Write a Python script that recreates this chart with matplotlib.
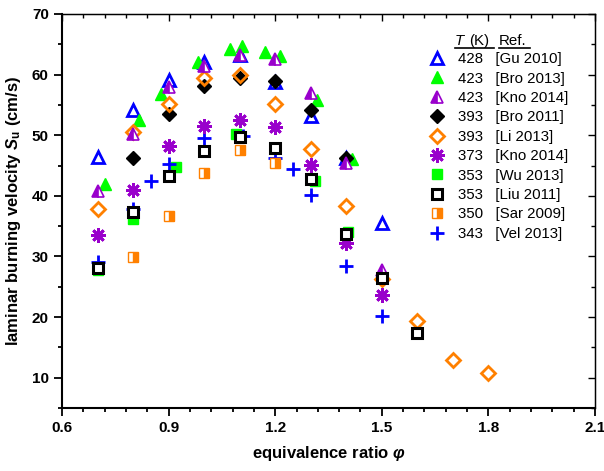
import matplotlib
matplotlib.use('Agg')
import matplotlib.pyplot as plt
from matplotlib.ticker import MultipleLocator, AutoMinorLocator

plt.rcParams['font.family'] = ['Liberation Sans', 'DejaVu Sans']
plt.rcParams['mathtext.fontset'] = 'custom'
plt.rcParams['mathtext.rm'] = 'Liberation Sans:bold'
plt.rcParams['mathtext.it'] = 'Liberation Sans:italic:bold'
plt.rcParams['mathtext.bf'] = 'Liberation Sans:bold'

# data (equivalence ratio, burning velocity cm/s)
gu2010_phi = [0.7, 0.8, 0.9, 1.0, 1.1, 1.2, 1.3, 1.4, 1.5]
gu2010_su = [46.4, 54.1, 59.1, 62.0, 63.3, 58.8, 53.2, 46.3, 35.5]

bro2013_phi = [0.72, 0.817, 0.88, 0.984, 1.073, 1.106, 1.171, 1.214, 1.319, 1.415]
bro2013_su = [42.0, 52.5, 56.8, 62.0, 64.2, 64.7, 63.8, 63.1, 55.8, 46.1]

kno423_phi = [0.7, 0.8, 0.9, 1.0, 1.1, 1.2, 1.3, 1.4, 1.5]
kno423_su = [40.8, 50.2, 58.0, 61.5, 63.2, 62.6, 56.9, 45.5, 27.7]

bro2011_phi = [0.8, 0.9, 1.0, 1.1, 1.2, 1.3, 1.4]
bro2011_su = [46.2, 53.5, 58.1, 59.5, 59.0, 54.1, 46.2]

li2013_phi = [0.7, 0.8, 0.9, 1.0, 1.1, 1.2, 1.3, 1.4, 1.5, 1.6, 1.7, 1.8]
li2013_su = [37.9, 50.5, 55.2, 59.5, 59.9, 55.1, 47.8, 38.4, 26.2, 19.3, 12.9, 10.8]

kno373_phi = [0.7, 0.8, 0.9, 1.0, 1.1, 1.2, 1.3, 1.4, 1.5]
kno373_su = [33.5, 41.0, 48.3, 51.5, 52.5, 51.4, 45.1, 32.2, 23.6]

wu2013_phi = [0.7, 0.8, 0.92, 1.09, 1.312, 1.405]
wu2013_su = [27.8, 36.2, 44.8, 50.2, 42.4, 34.0]

liu2011_phi = [0.7, 0.8, 0.9, 1.0, 1.1, 1.2, 1.3, 1.4, 1.5, 1.6]
liu2011_su = [28.1, 37.3, 43.3, 47.4, 49.7, 47.9, 42.8, 33.7, 26.5, 17.4]

sar2009_phi = [0.8, 0.9, 1.0, 1.1, 1.2]
sar2009_su = [29.9, 36.7, 43.8, 47.5, 45.4]

vel2013_phi = [0.7, 0.8, 0.85, 0.9, 1.0, 1.11, 1.2, 1.25, 1.3, 1.4, 1.5]
vel2013_su = [29.1, 37.8, 42.5, 45.2, 49.6, 49.9, 46.3, 44.5, 40.1, 28.5, 20.1]

temps = ['428', '423', '423', '393', '393', '373', '353', '353', '350', '343']
refs = ['[Gu 2010]', '[Bro 2013]', '[Kno 2014]', '[Bro 2011]', '[Li 2013]',
        '[Kno 2014]', '[Wu 2013]', '[Liu 2011]', '[Sar 2009]', '[Vel 2013]']

blue = '#0000FF'
green = '#00FF00'
purple = '#9900CC'
orange = '#FF8000'

fig = plt.figure(figsize=(6.04, 4.71), dpi=100)
ax = fig.add_axes([62 / 604, 63 / 471, 533 / 604, 394 / 471])

h_wu, = ax.plot(wu2013_phi, wu2013_su, 's', color=green, ms=7, zorder=2)
h_vel, = ax.plot(vel2013_phi, vel2013_su, '+', color=blue, ms=10, mew=2, zorder=3)
h_gu, = ax.plot(gu2010_phi, gu2010_su, '^', mfc='none', mec=blue, ms=8.5, mew=2, zorder=4)
h_bro13, = ax.plot(bro2013_phi, bro2013_su, '^', color=green, ms=9, zorder=5)
h_bro11, = ax.plot(bro2011_phi, bro2011_su, 'D', color='black', ms=7.5, zorder=6)
h_li, = ax.plot(li2013_phi, li2013_su, 'D', mfc='none', mec=orange, ms=7.5, mew=2, zorder=7)
h_kno423, = ax.plot(kno423_phi, kno423_su, '^', color=purple, fillstyle='left',
                    mfcalt='white', ms=9, mew=1.2, zorder=8)
h_kno373, = ax.plot(kno373_phi, kno373_su, marker=(8, 2, 0), ls='none', color=purple,
                    ms=10.5, mew=2, zorder=9)
h_liu, = ax.plot(liu2011_phi, liu2011_su, 's', mfc='white', mec='black', ms=6.5, mew=2.2, zorder=10)
h_sar, = ax.plot(sar2009_phi, sar2009_su, 's', color=orange, fillstyle='right',
                 mfcalt='white', ms=7.5, mew=1, zorder=11)

handles = [h_gu, h_bro13, h_kno423, h_bro11, h_li, h_kno373, h_wu, h_liu, h_sar, h_vel]
labels = [f'{t}   {r}' for t, r in zip(temps, refs)]
leg = ax.legend(handles, labels, loc='upper left', bbox_to_anchor=(0.675, 0.922),
                frameon=False, fontsize=10.8, handlelength=1.0, handletextpad=0.9,
                labelspacing=0.36, borderpad=0)

# legend header
ax.text(0.737, 0.922, 'T', transform=ax.transAxes, fontsize=10.8,
        fontstyle='italic', va='baseline', ha='left')
ax.text(0.764, 0.922, '(K)', transform=ax.transAxes, fontsize=10.8,
        va='baseline', ha='left')
ax.text(0.82, 0.922, 'Ref.', transform=ax.transAxes, fontsize=10.8, va='baseline', ha='left')
ax.plot([0.737, 0.811], [0.913, 0.913], transform=ax.transAxes, color='black', lw=1.2)
ax.plot([0.82, 0.878], [0.913, 0.913], transform=ax.transAxes, color='black', lw=1.2)

ax.set_xlim(0.6, 2.1)
ax.set_ylim(5, 70)
ax.xaxis.set_major_locator(MultipleLocator(0.3))
ax.xaxis.set_minor_locator(AutoMinorLocator(5))
ax.yaxis.set_major_locator(MultipleLocator(10))
ax.yaxis.set_minor_locator(AutoMinorLocator(2))
ax.set_yticks([10, 20, 30, 40, 50, 60, 70])

ax.tick_params(which='both', direction='out', top=False, right=False, width=1.3)
ax.tick_params(which='major', length=6)
ax.tick_params(which='minor', length=3)
for lab in ax.get_xticklabels() + ax.get_yticklabels():
    lab.set_fontweight('bold')
    lab.set_fontsize(11)

# inward ticks on top and right
sec_x = ax.secondary_xaxis('top')
sec_x.xaxis.set_major_locator(MultipleLocator(0.3))
sec_x.xaxis.set_minor_locator(AutoMinorLocator(5))
sec_x.tick_params(which='both', direction='in', labeltop=False, width=1.0)
sec_x.tick_params(which='major', length=5)
sec_x.tick_params(which='minor', length=3)
sec_y = ax.secondary_yaxis('right')
sec_y.yaxis.set_major_locator(MultipleLocator(10))
sec_y.yaxis.set_minor_locator(AutoMinorLocator(2))
sec_y.tick_params(which='both', direction='in', labelright=False, width=1.0)
sec_y.tick_params(which='major', length=5)
sec_y.tick_params(which='minor', length=3)

ax.spines['left'].set_linewidth(1.5)
ax.spines['bottom'].set_linewidth(1.5)
ax.spines['top'].set_linewidth(1.0)
ax.spines['right'].set_linewidth(1.0)

ax.set_xlabel(r'equivalence ratio $\varphi$', fontsize=12, fontweight='bold', labelpad=6)
ax.set_ylabel(r'laminar burning velocity $S_\mathrm{u}$ (cm/s)', fontsize=12,
              fontweight='bold', labelpad=6)

fig.savefig('out.png', dpi=100)
